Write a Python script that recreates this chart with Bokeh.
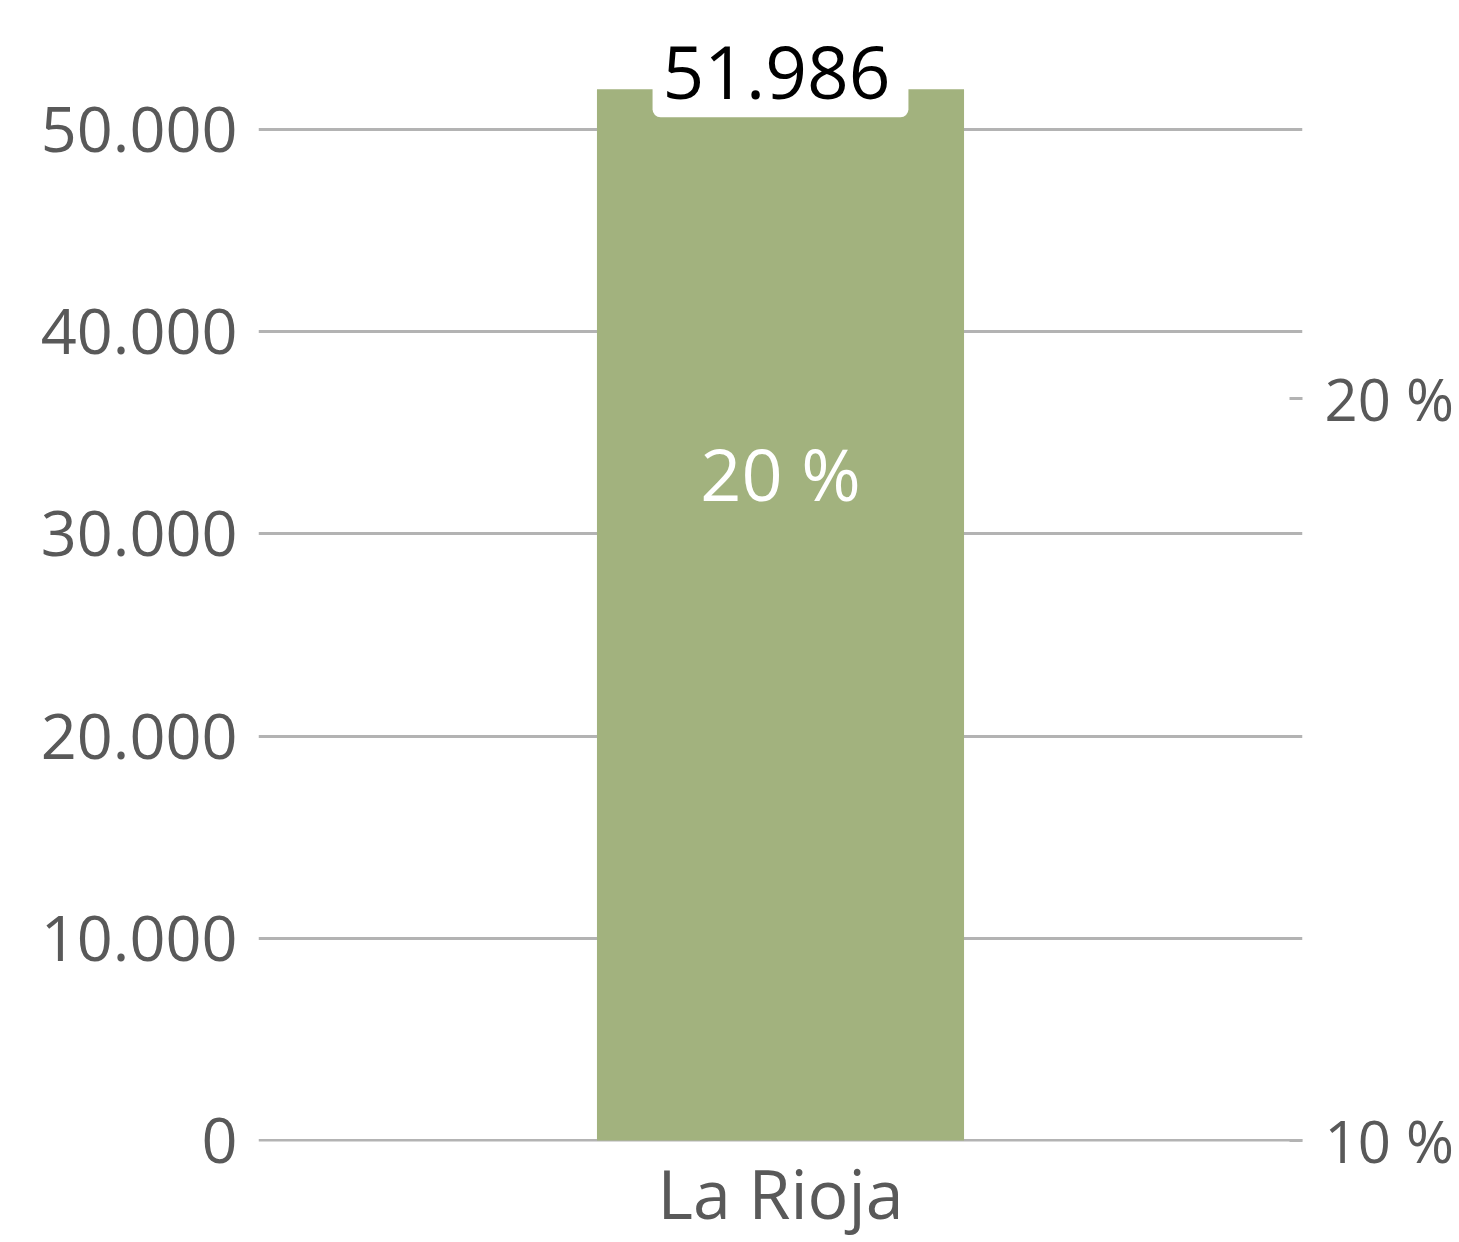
from bokeh.plotting import figure
from bokeh.models import Range1d, LinearAxis, FixedTicker, CustomJSTickFormatter, ColumnDataSource
from bokeh.core.properties import value
from bokeh.embed import file_html
from bokeh.resources import INLINE

categories = ["La Rioja"]
totals = [51986]
pct_values = [20]
left_ticks = [0, 10000, 20000, 30000, 40000, 50000]
right_ticks = [10, 20]

FONT = "Open Sans"
GREY = "#595959"

src = ColumnDataSource(dict(
    cat=categories,
    total=totals,
    total_label=["{:,}".format(v).replace(",", ".") for v in totals],
    pct=pct_values,
    pct_label=["{} %".format(v) for v in pct_values],
))

p = figure(x_range=categories, y_range=Range1d(-50, 55390), width=1456, height=1242,
           output_backend="svg", toolbar_location=None,
           min_border_left=258, min_border_right=150, min_border_top=20, min_border_bottom=101)
p.outline_line_color = None
p.background_fill_color = "white"
p.border_fill_color = "white"

p.extra_y_ranges = {"pct": Range1d(9.987, 25.09)}

p.vbar(x="cat", top="total", width=0.3516, source=src, color="#a2b27e", line_color=None)

# value label above bar
p.text(x="cat", y="total", text="total_label", source=src, text_font=value(FONT),
       text_font_size="73px", text_color="black", text_align="center", text_baseline="bottom",
       y_offset=28, background_fill_color="white", border_radius=8, padding=[10, 18, 0, 18])

# percentage label inside bar
p.text(x="cat", y="pct", text="pct_label", source=src, y_range_name="pct", text_font=value(FONT),
       text_font_size="72px", text_color="white", text_align="center", text_baseline="middle",
       y_offset=75)

fmt = CustomJSTickFormatter(code="return tick == 0 ? '0' : tick.toLocaleString('de-DE');")

# left axis
ax = p.yaxis[0]
ax.ticker = FixedTicker(ticks=left_ticks)
ax.formatter = fmt
ax.axis_line_color = None
ax.major_tick_line_color = None
ax.minor_tick_line_color = None
ax.major_label_text_font = FONT
ax.major_label_text_font_size = "63px"
ax.major_label_text_color = GREY
ax.major_label_standoff = 15

# right axis
rax = LinearAxis(y_range_name="pct", ticker=FixedTicker(ticks=right_ticks),
                 formatter=CustomJSTickFormatter(code="return tick + ' %';"))
rax.axis_line_color = None
rax.major_tick_line_color = "#b3b3b3"
rax.major_tick_line_width = 3
rax.major_tick_in = 13
rax.major_tick_out = 0
rax.minor_tick_line_color = None
rax.major_label_text_font = FONT
rax.major_label_text_font_size = "58px"
rax.major_label_text_color = GREY
rax.major_label_standoff = 22
p.add_layout(rax, "right")

# x axis
xax = p.xaxis[0]
xax.axis_line_color = None
xax.major_tick_line_color = None
xax.major_label_text_font = FONT
xax.major_label_text_font_size = "68px"
xax.major_label_text_color = GREY
xax.major_label_standoff = -2

p.xgrid.grid_line_color = None
p.ygrid.ticker = FixedTicker(ticks=left_ticks)
p.ygrid.grid_line_color = "#b3b3b3"
p.ygrid.grid_line_width = 3

open("out.html", "w").write(file_html(p, INLINE))
